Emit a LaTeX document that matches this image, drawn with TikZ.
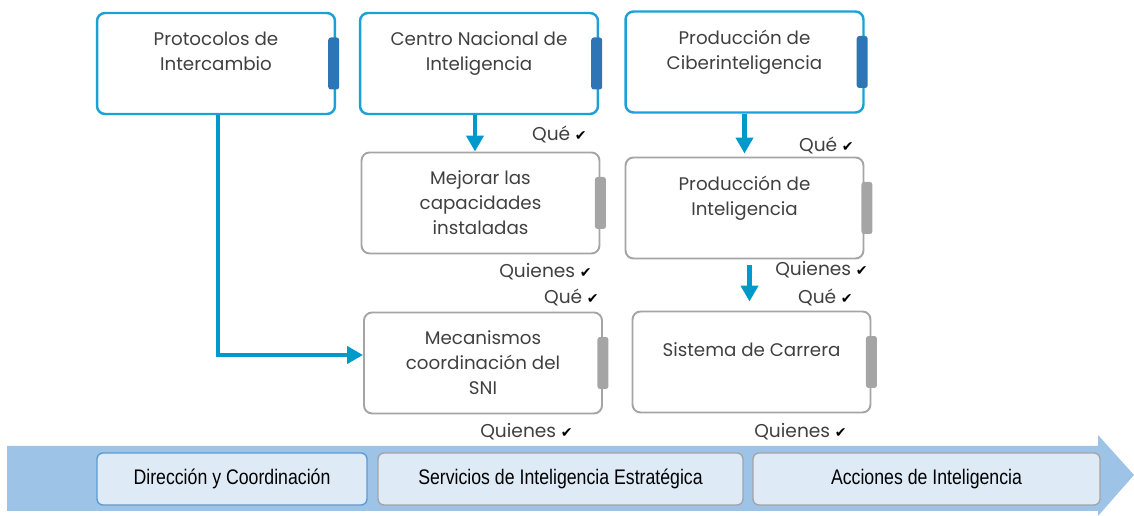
\documentclass[tikz,border=0pt]{standalone}
\usepackage{fontspec}
\setmainfont{Poppins}
\newfontfamily\narrowfont[FakeStretch=0.84]{Liberation Sans}
\newfontfamily\symfont{DejaVu Sans}
\usetikzlibrary{arrows.meta,calc}
\definecolor{boxblue}{HTML}{1BA1D5}
\definecolor{flowblue}{HTML}{0099CC}
\definecolor{tabblue}{HTML}{2E75B6}
\definecolor{tabgray}{HTML}{A5A5A5}
\definecolor{bandblue}{HTML}{9DC3E6}
\definecolor{stageblue}{HTML}{DEEBF7}
\definecolor{stageline}{HTML}{5B9BD5}
\definecolor{textgray}{HTML}{404040}
\newcommand{\ok}{\hspace{0.25em}{\symfont\fontsize{8}{8}\selectfont\color{black}✔}}
\tikzset{
  topbox/.style={draw=boxblue, line width=1.4pt, rounded corners=0.16cm,
    minimum width=4.76cm, minimum height=2.02cm, align=center,
    text=textgray, font=\fontsize{10.4}{14.2}\selectfont},
  subbox/.style={topbox, draw=tabgray, line width=1.1pt},
  tabmark/.style={fill=#1, rounded corners=1.5pt, minimum width=0.22cm,
    minimum height=1.04cm, inner sep=0pt},
  tick/.style={anchor=east, inner sep=0pt, text=textgray,
    font=\fontsize{10.6}{12}\selectfont},
  flow/.style={draw=flowblue, line width=2.6pt,
    -{Triangle[length=0.32cm,width=0.34cm]}},
  stage/.style={draw=#1, fill=stageblue, line width=0.8pt, rounded corners=0.12cm,
    minimum height=1.04cm, inner sep=0pt, font=\narrowfont\fontsize{12}{14}\selectfont}
}
\begin{document}
\begin{tikzpicture}[x=0.02cm,y=-0.02cm]
  \useasboundingbox (0,0) rectangle (1134,516);

  % band at the bottom
  \fill[bandblue] (7,446) -- (1098,446) -- (1098,435) -- (1134,475)
    -- (1098,516) -- (1098,511) -- (7,511) -- cycle;
  \node[stage=stageline, minimum width=5.4cm] (s1) at (232,479) {Dirección y Coordinación};
  \node[stage=tabgray, minimum width=7.3cm] (s2) at (560.5,479) {Servicios de Inteligencia Estratégica};
  \node[stage=tabgray, minimum width=6.94cm] (s3) at (926.5,479) {Acciones de Inteligencia};

  % top row
  \node[topbox] (proto) at (216,63.5) {Protocolos de\\Intercambio\\\mbox{}};
  \node[topbox] (centro) at (479,63.5) {Centro Nacional de\\Inteligencia\\\mbox{}};
  \node[topbox] (ciber) at (744.5,62) {Producción de\\Ciberinteligencia\\\mbox{}};

  % lower rows
  \node[subbox] (mejorar) at (480.5,203) {Mejorar las\\capacidades\\instaladas};
  \node[subbox] (prodint) at (744.5,208) {Producción de\\Inteligencia\\\mbox{}};
  \node[subbox] (mecan) at (483,363) {Mecanismos\\coordinación del\\SNI};
  \node[subbox] (carrera) at (751.5,362) {Sistema de Carrera\\\mbox{}};

  % tabs on the right edge
  \node[tabmark=tabblue] (t1) at ([xshift=-0.05cm]proto.east) {};
  \node[tabmark=tabblue] (t2) at ([xshift=-0.05cm]centro.east) {};
  \node[tabmark=tabblue] (t3) at ([xshift=-0.05cm]ciber.east) {};
  \node[tabmark=tabgray] (t4) at (mejorar.east) {};
  \node[tabmark=tabgray] (t5) at ([xshift=0.05cm]prodint.east) {};
  \node[tabmark=tabgray] (t6) at (mecan.east) {};
  \node[tabmark=tabgray] (t7) at (carrera.east) {};

  % que / quienes
  \node[tick] (q1) at (587,134) {Qué\ok};
  \node[tick] (q2) at (854,145) {Qué\ok};
  \node[tick] (w1) at (592,272) {Quienes\ok};
  \node[tick] (q3) at (599,297) {Qué\ok};
  \node[tick] (w2) at (868,270) {Quienes\ok};
  \node[tick] (q4) at (853,297) {Qué\ok};
  \node[tick] (w3) at (573,432) {Quienes\ok};
  \node[tick] (w4) at (847,432) {Quienes\ok};

  % arrows
  \draw[flow] ([xshift=0.04cm]proto.south) |- ([yshift=0.16cm]mecan.west);
  \draw[flow] ([xshift=-0.08cm]centro.south) -- ([xshift=-0.08cm]centro.south |- mejorar.north);
  \draw[flow, shorten >=0.06cm] (ciber.south) -- (ciber.south |- prodint.north);
  \draw[flow, shorten <=0.12cm, shorten >=0.18cm]
    ([xshift=0.1cm]prodint.south) -- ([xshift=0.1cm]prodint.south |- carrera.north);
\end{tikzpicture}
\end{document}
